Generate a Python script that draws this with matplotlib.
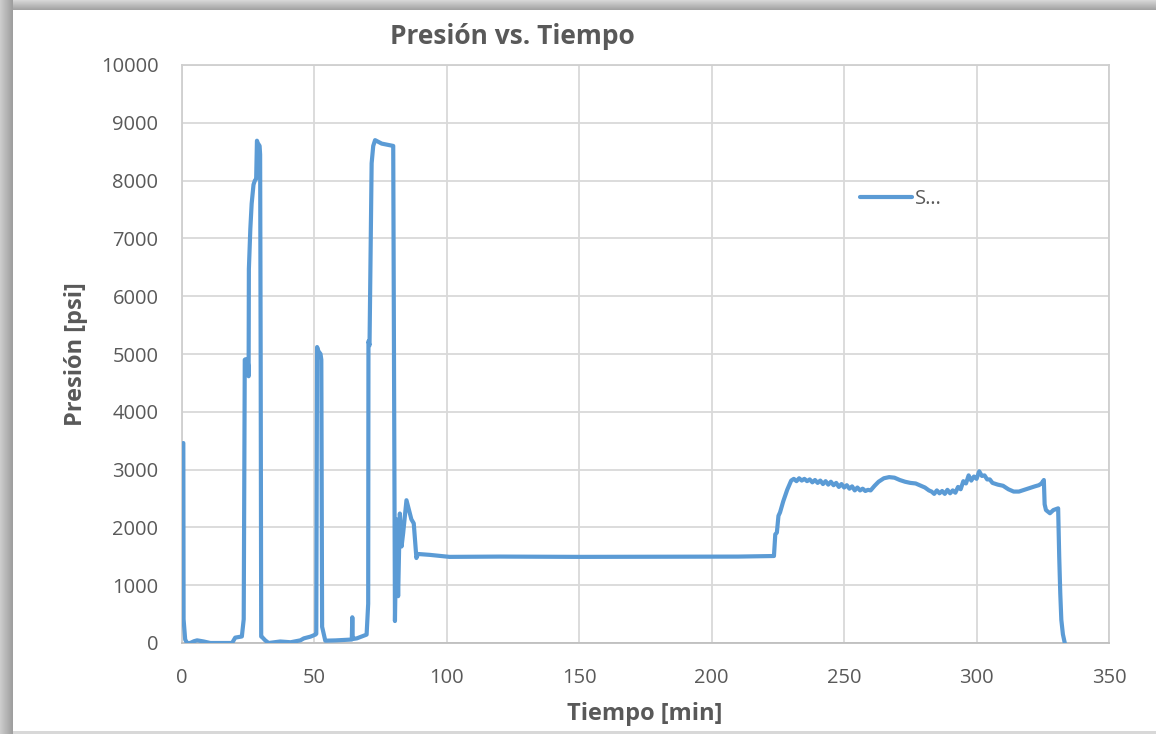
import numpy as np
import matplotlib
matplotlib.use("Agg")
import matplotlib.pyplot as plt

# Pressure log: time [min] and pressure [psi]
tiempo = [
    0.5, 0.6, 1.2, 1.9, 3.1, 4.5, 5.7, 7.0, 8.2, 10.7, 18.9, 20.1, 22.6,
    23.3, 23.7, 24.0, 24.8, 25.0, 25.15, 25.25, 25.8, 26.3, 27.0, 27.5, 28.0,
    28.3, 28.6, 29.0, 29.3, 29.5, 29.7, 29.9, 30.5, 31.4, 32.7, 37.1, 41.0,
    44.7, 46.0, 48.5, 50.4, 50.7, 51.0, 51.5, 52.3, 52.6, 52.9, 53.3, 54.1,
    58.0, 64.1, 64.3, 64.45, 64.6, 66.0, 69.7, 70.3, 70.4, 70.8, 71.6, 72.2,
    72.9, 75.4, 79.75, 80.4, 81.0, 81.6, 82.25, 82.9, 83.5, 84.75, 85.7, 86.6,
    87.5, 88.5, 89.1, 93.5, 101.0, 120.0, 150.0, 180.0, 210.0, 223.5, 224.0,
    224.6, 225.2, 225.8, 227.0, 228.5,
    230, 231, 232, 233, 234, 235, 236, 237, 238, 239, 240, 241, 242, 243,
    244, 245, 246, 247, 248, 249, 250, 251, 252, 253, 254, 255, 256, 257,
    258, 259, 260,
    261.5, 263.0, 265.0, 267.0, 269.0, 271.0, 273.0, 275.0, 277.0, 279.0,
    280.5, 282.0,
    283, 284, 285, 286, 287, 288, 289, 290, 291, 292, 293, 294, 295, 296,
    297, 298, 299, 300, 301, 302, 303, 304, 305, 306,
    308.0, 310.0, 312.0, 314.0, 316.0, 318.0, 320.0, 322.0, 323.5, 324.5,
    325.4, 325.7, 326.2, 327.7, 329.0, 330.8, 331.2, 331.6, 332.0, 332.6,
    333.3,
]
presion = [
    3460, 410, 60, 0, 0, 30, 46, 35, 26, 0, 0, 93, 113,
    410, 4900, 4910, 4880, 4800, 4615, 6470, 7165, 7600, 7930, 8000, 8030,
    8690, 8650, 8620, 8600, 8450, 5000, 113, 90, 46, 0, 26, 13,
    46, 80, 110, 146, 160, 5120, 5050, 5000, 4900, 280, 200, 40,
    45, 60, 445, 90, 70, 80, 145, 680, 5220, 5150, 8300, 8600,
    8700, 8640, 8600, 380, 2140, 810, 2240, 1670, 1900, 2470, 2300, 2140,
    2070, 1470, 1540, 1525, 1490, 1495, 1490, 1492, 1495, 1505, 1880,
    1910, 2200, 2260, 2450, 2650,
    2810, 2840, 2800, 2850, 2810, 2840, 2800, 2830, 2780, 2820, 2770, 2810,
    2750, 2800, 2740, 2790, 2730, 2770, 2700, 2750, 2690, 2730, 2670, 2710,
    2640, 2690, 2640, 2670, 2630, 2650, 2640,
    2720, 2790, 2850, 2870, 2860, 2820, 2790, 2770, 2760, 2720,
    2690, 2640,
    2620, 2580, 2640, 2590, 2630, 2580, 2650, 2590, 2640, 2600, 2700, 2660,
    2800, 2760, 2900, 2810, 2880, 2840, 2970, 2890, 2900, 2830, 2830, 2770,
    2740, 2720, 2660, 2620, 2620, 2650, 2680, 2710, 2730, 2760,
    2820, 2400, 2300, 2245, 2300, 2330, 1500, 860, 400, 150,
    0,
]

serie = "S…"
x_ticks = [0, 50, 100, 150, 200, 250, 300, 350]
y_ticks = [0, 1000, 2000, 3000, 4000, 5000, 6000, 7000, 8000, 9000, 10000]

W, H, DPI = 1156, 734, 100
fig = plt.figure(figsize=(W / DPI, H / DPI), dpi=DPI)

# Card background with a soft shadow on the left and top edges
bg = np.ones((H, W, 3))
card_x, card_y = 13, 10
for i in range(card_x):
    v = 0.80 - 0.18 * (i / (card_x - 1))
    bg[:, i, :] = v
for j in range(card_y):
    v = 0.84 - 0.20 * (j / (card_y - 1))
    bg[j, card_x:, :] = np.minimum(bg[j, card_x:, :], v)
bg[H - 3:, card_x:, :] = 0.85
fig.figimage(bg, xo=0, yo=0, origin="upper", zorder=-1)

ax = fig.add_axes([182 / W, 1 - 643 / H, (1109 - 182) / W, (643 - 65) / H])
ax.set_facecolor("none")

line_color = "#5b9bd5"
text_color = "#595959"
grid_color = "#d9d9d9"

ax.plot(tiempo, presion, color=line_color, lw=3.0, solid_joinstyle="round",
        solid_capstyle="round", label=serie, zorder=3)

ax.set_xlim(0, 350)
ax.set_ylim(0, 10000)
ax.set_xticks(x_ticks)
ax.set_yticks(y_ticks)
ax.grid(True, color=grid_color, lw=1.3)
ax.set_axisbelow(True)
for s in ax.spines.values():
    s.set_color("#cfcfcf")
    s.set_linewidth(1.3)
ax.spines["bottom"].set_color("#bfbfbf")

ax.tick_params(length=0, labelsize=14.5, labelcolor=text_color)
ax.tick_params(axis="y", pad=17)
ax.tick_params(axis="x", pad=18)
for lab in ax.get_xticklabels() + ax.get_yticklabels():
    lab.set_fontfamily("Open Sans")

fig.text(512 / W, 1 - 36 / H, "Presión vs. Tiempo", ha="center", va="center",
         fontsize=19, fontweight="bold", color=text_color, family="Open Sans")
fig.text(645 / W, 1 - 714 / H, "Tiempo [min]", ha="center", va="center",
         fontsize=17, fontweight="bold", color=text_color, family="Open Sans")
fig.text(76 / W, 1 - 354 / H, "Presión [psi]", ha="center", va="center",
         rotation=90, fontsize=17, fontweight="bold", color=text_color,
         family="Open Sans")

leg = ax.legend(loc="center left", bbox_to_anchor=(860 / W, 1 - 199 / H),
                bbox_transform=fig.transFigure, frameon=False, borderpad=0,
                borderaxespad=0, handlelength=2.6, handletextpad=0.15,
                prop={"family": "Open Sans", "size": 14.5})
for t in leg.get_texts():
    t.set_color(text_color)

fig.savefig("out.png", dpi=DPI)
